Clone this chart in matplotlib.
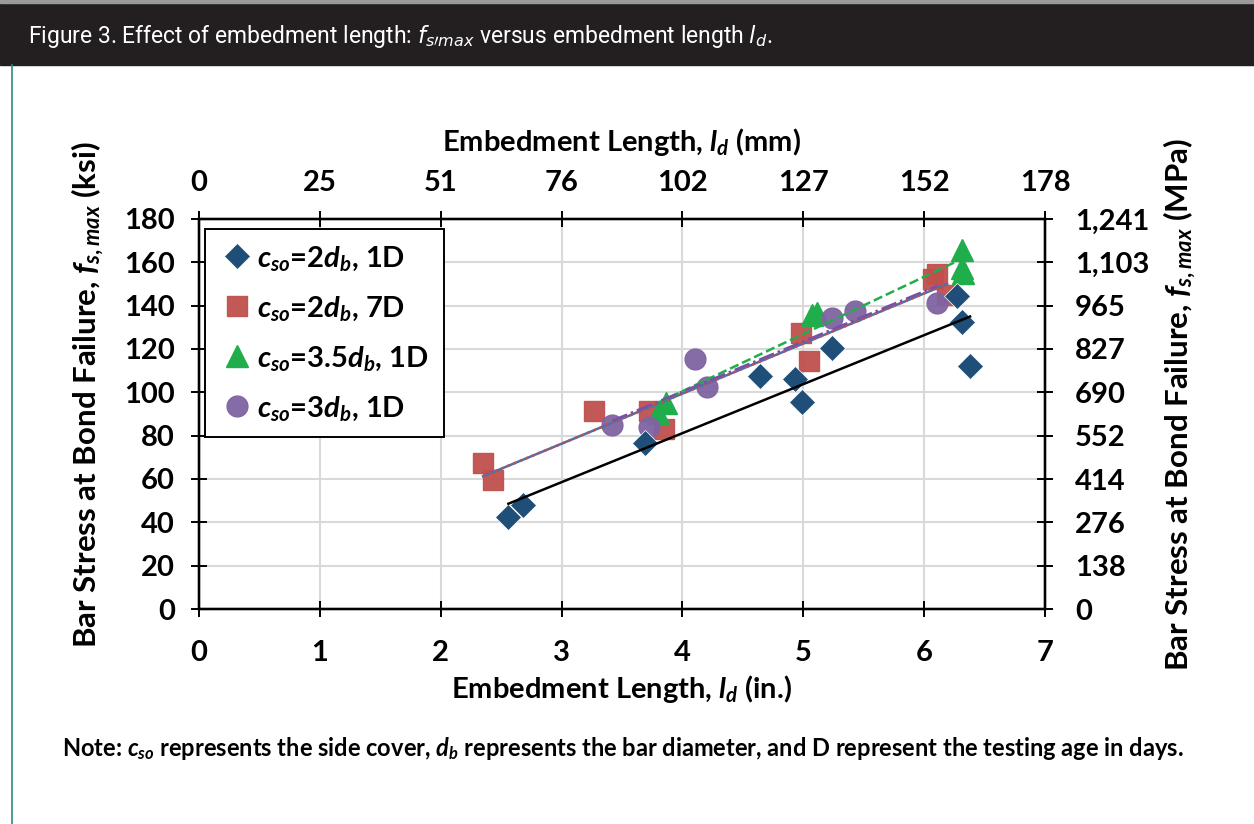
import numpy as np
import matplotlib
matplotlib.use('Agg')
import matplotlib.pyplot as plt
from matplotlib.patches import Rectangle
from matplotlib.lines import Line2D

# data (x in inches, y in ksi)
blue_x = [2.56, 2.68, 3.69, 4.64, 4.93, 4.99, 5.24, 6.27, 6.31, 6.38]
blue_y = [42.5, 48.0, 76.5, 107.5, 106.0, 95.5, 120.5, 144.5, 132.5, 112.0]

red_x = [2.35, 2.43, 3.27, 3.72, 3.85, 4.98, 5.05, 6.07, 6.11, 6.19]
red_y = [67.5, 59.5, 91.5, 91.5, 83.0, 127.5, 114.5, 152.5, 154.5, 145.0]

green_x = [3.80, 3.86, 5.07, 5.11, 6.31, 6.31, 6.32]
green_y = [90.5, 95.0, 135.5, 136.5, 165.5, 157.5, 155.0]

purple_x = [3.42, 3.72, 4.10, 4.20, 5.24, 5.43, 6.11]
purple_y = [85.0, 84.0, 115.5, 102.5, 134.5, 137.5, 141.0]

x_ticks = [0, 1, 2, 3, 4, 5, 6, 7]
mm_labels = ['0', '25', '51', '76', '102', '127', '152', '178']
y_ticks = [0, 20, 40, 60, 80, 100, 120, 140, 160, 180]
mpa_labels = ['0', '138', '276', '414', '552', '690', '827', '965', '1,103', '1,241']

plt.rcParams['font.family'] = ['Lato', 'DejaVu Sans']
plt.rcParams['axes.labelweight'] = 'bold'
plt.rcParams['mathtext.fontset'] = 'custom'
plt.rcParams['mathtext.rm'] = 'Lato:weight=bold'
plt.rcParams['mathtext.it'] = 'Lato:style=italic:weight=bold'
plt.rcParams['mathtext.bf'] = 'Lato:weight=bold'

FS = 21

fig = plt.figure(figsize=(12.54, 8.24), dpi=100)

# header band and frame line
fig.patches.append(Rectangle((0, 1 - 65 / 824), 1, 62 / 824, transform=fig.transFigure,
                             color='#231f20', zorder=0))
fig.patches.append(Rectangle((0, 1 - 3 / 824), 1, 3 / 824, transform=fig.transFigure,
                             color='#9a9a9a', zorder=0))
fig.lines.append(Line2D([12 / 1254, 12 / 1254], [0, 1 - 65 / 824], transform=fig.transFigure,
                        color='#2b8c7e', lw=1.2))
fig.text(28 / 1254, 1 - 37 / 824,
         r'Figure 3. Effect of embedment length: $f_{s\prime max}$ versus embedment length $l_d$.',
         color='white', fontsize=16.5, family=['Roboto', 'DejaVu Sans'],
         ha='left', va='center', math_fontfamily='dejavusans')

ax = fig.add_axes([199 / 1254, 1 - 609 / 824, 846 / 1254, 390 / 824])

ax.plot(blue_x, blue_y, 'D', color='#1f4e79', ms=13, mec='white', mew=0.5,
        label=r'$c_{so}$=2$d_b$, 1D', zorder=4)
ax.plot(red_x, red_y, 's', color='#c0504d', ms=15, alpha=0.95,
        label=r'$c_{so}$=2$d_b$, 7D', zorder=3)
ax.plot(green_x, green_y, '^', color='#1fae4b', ms=16,
        label=r'$c_{so}$=3.5$d_b$, 1D', zorder=3)
ax.plot(purple_x, purple_y, 'o', color='#8064a2', ms=15, alpha=0.95,
        label=r'$c_{so}$=3$d_b$, 1D', zorder=3)

# linear trendlines
def trend(xs, ys):
    k, b = np.polyfit(xs, ys, 1)
    xx = np.array([min(xs), max(xs)])
    return xx, k * xx + b

tx, ty = trend(blue_x, blue_y)
ax.plot(tx, ty, '-', color='black', lw=1.8, zorder=5)
tx, ty = trend(red_x, red_y)
ax.plot(tx, ty, '-', color='#4f6fa8', lw=1.8, zorder=5)
ax.plot(tx, ty, ':', color='#c0504d', lw=1.8, zorder=5)
tx, ty = trend(green_x, green_y)
ax.plot(tx, ty, '--', color='#1fae4b', lw=1.8, zorder=5)
tx, ty = trend(purple_x, purple_y)
ax.plot(tx, ty, '-.', color='#7a4fa8', lw=1.8, zorder=5)

ax.set_xlim(0, 7)
ax.set_ylim(0, 180)
ax.set_xticks(x_ticks)
ax.set_yticks(y_ticks)
ax.grid(True, color='#d9d9d9', lw=1.5)
ax.set_axisbelow(True)
ax.tick_params(axis='y', direction='inout', length=11, width=1.4, labelsize=FS, pad=12)
ax.tick_params(axis='x', direction='inout', length=11, width=1.4, labelsize=FS, pad=17)
ax.set_xlabel(r'Embedment Length, $l_d$ (in.)', fontsize=FS, labelpad=5)

axr = ax.twinx()
axr.set_ylim(0, 180)
axr.set_yticks(y_ticks)
axr.set_yticklabels(mpa_labels)
axr.tick_params(direction='inout', length=11, width=1.4, labelsize=FS, pad=16)

axt = ax.twiny()
axt.set_xlim(0, 7)
axt.set_xticks(x_ticks)
axt.set_xticklabels(mm_labels)
axt.tick_params(direction='inout', length=11, width=1.4, labelsize=FS, pad=11)
axt.set_xlabel(r'Embedment Length, $l_d$ (mm)', fontsize=FS, labelpad=14)

for a in (ax, axr, axt):
    for s in a.spines.values():
        s.set_linewidth(1.6)
    for t in a.get_xticklabels() + a.get_yticklabels():
        t.set_fontweight('bold')

fig.text(88 / 1254, 1 - 395 / 824, r'Bar Stress at Bond Failure, $f_{s,max}$ (ksi)',
         rotation=90, fontsize=22.5, fontweight='bold', ha='center', va='center')
fig.text(1180 / 1254, 1 - 405 / 824, r'Bar Stress at Bond Failure, $f_{s,max}$ (MPa)',
         rotation=90, fontsize=22.5, fontweight='bold', ha='center', va='center')

leg = ax.legend(loc='upper left', bbox_to_anchor=(0.007, 0.974), borderaxespad=0,
                prop={'size': FS, 'weight': 'bold'}, frameon=True,
                fancybox=False, edgecolor='black', framealpha=1, handletextpad=0.1,
                handlelength=1.2, labelspacing=0.72, borderpad=0.5)
leg.get_frame().set_linewidth(1.4)
leg.set_zorder(10)

fig.text(62 / 1254, 1 - 748 / 824,
         r'Note: $c_{so}$ represents the side cover, $d_b$ represents the bar diameter, and D represent the testing age in days.',
         fontsize=17, fontweight='bold', ha='left', va='center')

fig.savefig('out.png', dpi=100)
